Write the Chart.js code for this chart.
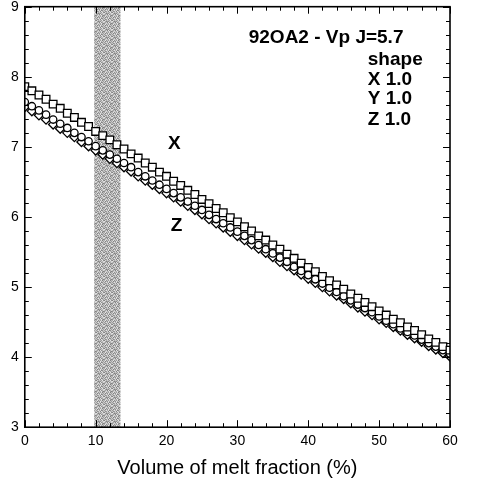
<!DOCTYPE html>
<html>
<head>
<meta charset="utf-8">
<script src="https://cdn.jsdelivr.net/npm/chart.js@4"></script>
<style>
  html, body { margin: 0; padding: 0; background: #fff; }
  #wrap { width: 480px; height: 489px; }
</style>
</head>
<body>
<div id="wrap"><canvas id="myChart"></canvas></div>
<script>
// melt fraction (%) for every marker
const meltFraction = [0,1,2,3,4,5,6,7,8,9,10,11,12,13,14,15,16,17,18,19,20,
  21,22,23,24,25,26,27,28,29,30,31,32,33,34,35,36,37,38,39,40,
  41,42,43,44,45,46,47,48,49,50,51,52,53,54,55,56,57,58,59,60];

// Vp along X (squares)
const vpX = [7.86,7.80,7.74,7.68,7.61,7.55,7.48,7.42,7.35,7.29,7.22,7.16,7.10,7.03,6.97,6.90,6.84,6.77,6.71,6.64,6.58,
  6.51,6.45,6.38,6.32,6.25,6.19,6.12,6.06,5.99,5.93,5.86,5.80,5.73,5.67,5.60,5.54,5.47,5.41,5.34,5.28,
  5.22,5.15,5.09,5.03,4.97,4.90,4.84,4.78,4.72,4.66,4.60,4.54,4.49,4.43,4.38,4.32,4.26,4.21,4.15,4.10];

// Vp along Y (circles)
const vpY = [7.64,7.58,7.52,7.46,7.39,7.33,7.27,7.20,7.14,7.08,7.01,6.95,6.89,6.83,6.77,6.71,6.64,6.58,6.52,6.46,6.40,
  6.34,6.28,6.22,6.16,6.10,6.03,5.97,5.91,5.85,5.79,5.73,5.67,5.60,5.54,5.48,5.42,5.36,5.29,5.23,5.17,
  5.11,5.05,4.99,4.93,4.87,4.81,4.75,4.70,4.64,4.58,4.52,4.47,4.41,4.36,4.31,4.25,4.20,4.15,4.10,4.05];

// Vp along Z (diamonds)
const vpZ = [7.57,7.51,7.45,7.39,7.32,7.26,7.20,7.14,7.07,7.01,6.95,6.89,6.83,6.77,6.71,6.65,6.58,6.52,6.46,6.40,6.34,
  6.28,6.22,6.16,6.10,6.04,5.97,5.91,5.85,5.79,5.73,5.67,5.61,5.55,5.49,5.43,5.36,5.30,5.24,5.18,5.12,
  5.06,5.00,4.94,4.88,4.83,4.77,4.71,4.65,4.60,4.54,4.49,4.43,4.38,4.32,4.27,4.22,4.16,4.11,4.06,4.01];

const xTicks = [0, 10, 20, 30, 40, 50, 60];
const yTicks = [3, 4, 5, 6, 7, 8, 9];
const band = [9.8, 13.5]; // shaded melt-fraction range

function points(ys) {
  return meltFraction.map((m, i) => ({ x: m, y: ys[i] }));
}

// stipple for the grey band (fixed 8x8 tile of grey levels)
const tile = [
  "37152604", "60417352", "24736015", "51260743",
  "06354271", "73021546", "42507136", "15643720"
];
function stipple(ctx) {
  const c = document.createElement("canvas");
  c.width = 8; c.height = 8;
  const g = c.getContext("2d");
  tile.forEach((row, j) => {
    for (let i = 0; i < 8; i++) {
      const lvl = 130 + Number(row[i]) * 14;
      g.fillStyle = `rgb(${lvl},${lvl},${lvl})`;
      g.fillRect(i, j, 1, 1);
    }
  });
  return ctx.createPattern(c, "repeat");
}

const notes = [
  { text: "92OA2 - Vp J=5.7", x: 31.6, y: 8.56 },
  { text: "shape", x: 48.4, y: 8.24 },
  { text: "X 1.0", x: 48.4, y: 7.96 },
  { text: "Y 1.0", x: 48.4, y: 7.68 },
  { text: "Z 1.0", x: 48.4, y: 7.39 },
  { text: "X", x: 20.2, y: 7.04 },
  { text: "Z", x: 20.6, y: 5.88 }
];

const decor = {
  id: "decor",
  beforeDatasetsDraw(chart) {
    const { ctx, chartArea: a, scales: { x } } = chart;
    ctx.save();
    ctx.fillStyle = stipple(ctx);
    const x0 = x.getPixelForValue(band[0]), x1 = x.getPixelForValue(band[1]);
    ctx.fillRect(x0, a.top, x1 - x0, a.bottom - a.top);
    ctx.restore();
  },
  afterDatasetsDraw(chart) {
    const { ctx, chartArea: a, scales: { x, y } } = chart;
    ctx.save();
    ctx.strokeStyle = "#000";
    ctx.lineWidth = 1.6;
    ctx.strokeRect(a.left, a.top, a.right - a.left, a.bottom - a.top);

    // inward ticks on all four sides
    ctx.lineWidth = 1;
    ctx.beginPath();
    for (let v = 0; v <= 60; v += 2) {
      const px = Math.round(x.getPixelForValue(v)) + 0.5;
      const len = v % 10 === 0 ? 7 : 4;
      ctx.moveTo(px, a.bottom); ctx.lineTo(px, a.bottom - len);
      ctx.moveTo(px, a.top); ctx.lineTo(px, a.top + len);
    }
    for (let k = 0; k <= 30; k++) {
      const v = 3 + k * 0.2;
      const py = Math.round(y.getPixelForValue(v)) + 0.5;
      const len = k % 5 === 0 ? 7 : 4;
      ctx.moveTo(a.left, py); ctx.lineTo(a.left + len, py);
      ctx.moveTo(a.right, py); ctx.lineTo(a.right - len, py);
    }
    ctx.stroke();

    ctx.fillStyle = "#000";
    ctx.font = "bold 19px 'Liberation Sans', Arial, sans-serif";
    ctx.textBaseline = "middle";
    ctx.textAlign = "left";
    notes.forEach(n => ctx.fillText(n.text, x.getPixelForValue(n.x), y.getPixelForValue(n.y)));
    ctx.restore();
  }
};

const myChart = document.querySelector("#myChart");

new Chart(myChart, {
  type: "scatter",
  data: {
    datasets: [
      {
        label: "X",
        data: points(vpX),
        pointStyle: "rect",
        pointRadius: 5.4,
        backgroundColor: "#fff",
        borderColor: "#000",
        borderWidth: 1.3
      },
      {
        label: "Y",
        data: points(vpY),
        pointStyle: "circle",
        pointRadius: 3.7,
        backgroundColor: "#fff",
        borderColor: "#000",
        borderWidth: 1.3
      },
      {
        label: "Z",
        data: points(vpZ),
        pointStyle: "rectRot",
        pointRadius: 4.6,
        backgroundColor: "#fff",
        borderColor: "#000",
        borderWidth: 1.3
      }
    ]
  },
  options: {
    responsive: true,
    maintainAspectRatio: false,
    animation: false,
    layout: {
      padding: { left: 5, right: 30, top: 3, bottom: 9 }
    },
    scales: {
      x: {
        type: "linear",
        min: 0,
        max: 60,
        afterBuildTicks: s => { s.ticks = xTicks.map(v => ({ value: v })); },
        afterFit: s => { s.paddingRight = 0; s.paddingLeft = 0; },
        grid: { display: false, drawTicks: false },
        border: { display: false },
        ticks: {
          color: "#000",
          padding: 6,
          maxRotation: 0,
          font: { family: "'Liberation Sans', Arial, sans-serif", size: 14 }
        },
        title: {
          display: true,
          text: "Volume of melt fraction (%)",
          color: "#000",
          padding: { top: 0, bottom: 0 },
          font: { family: "'Liberation Sans', Arial, sans-serif", size: 20 }
        }
      },
      y: {
        min: 3,
        max: 9,
        afterBuildTicks: s => { s.ticks = yTicks.map(v => ({ value: v })); },
        afterFit: s => { s.paddingTop = 0; s.paddingBottom = 0; },
        grid: { display: false, drawTicks: false },
        border: { display: false },
        ticks: {
          color: "#000",
          padding: 6,
          font: { family: "'Liberation Sans', Arial, sans-serif", size: 14 }
        }
      }
    },
    plugins: {
      legend: { display: false },
      tooltip: { enabled: false }
    }
  },
  plugins: [decor]
});
</script>
</body>
</html>
